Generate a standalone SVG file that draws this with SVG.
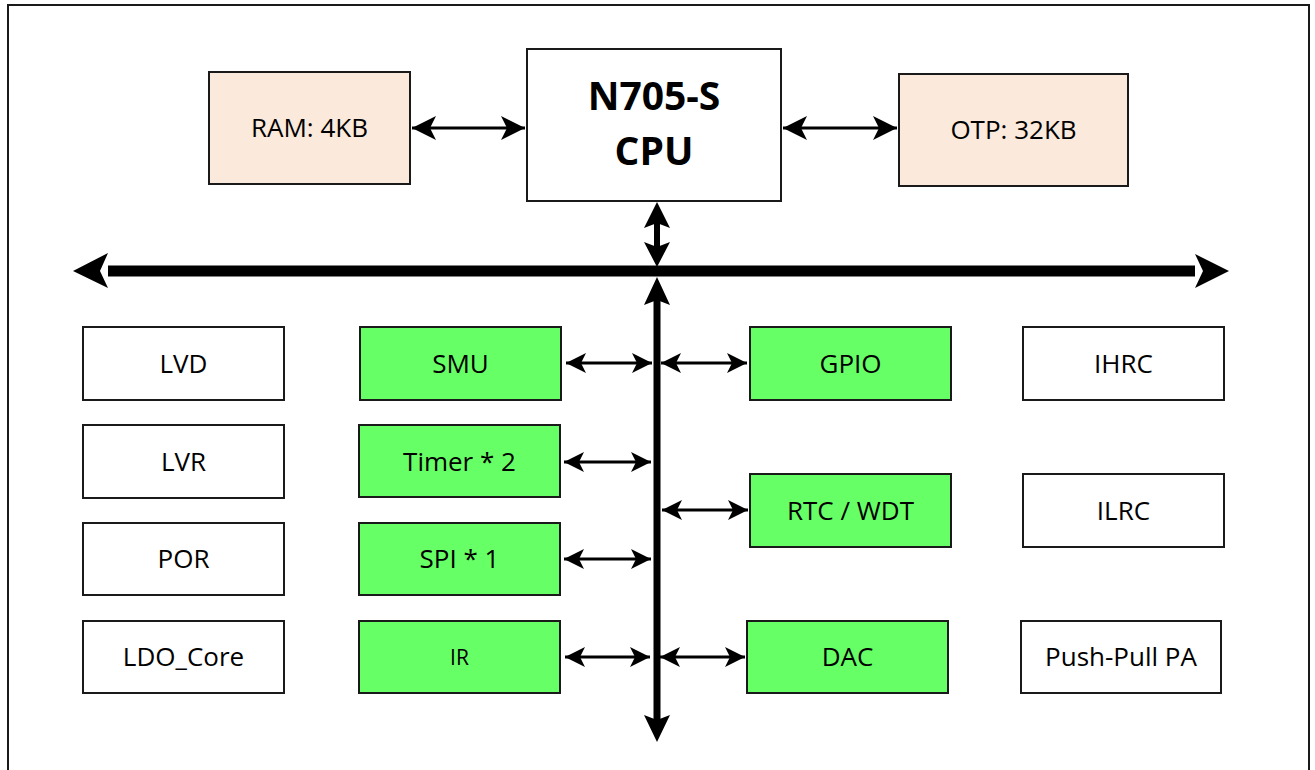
<svg xmlns="http://www.w3.org/2000/svg" width="1315" height="770" viewBox="0 0 1315 770">
<style>
.box{stroke:#1a1a1a;stroke-width:2}
.w{fill:#ffffff}
.g{fill:#66ff66}
.p{fill:#fbe9db}
.t{font-family:"Open Sans","Noto Sans",sans-serif;font-size:26px;fill:#000;text-anchor:middle}
.tb{font-family:"Open Sans","Noto Sans",sans-serif;font-size:39px;font-weight:bold;fill:#000;text-anchor:middle}
.thin{stroke:#000;stroke-width:3;fill:none}
</style>
<defs>
<marker id="sa" viewBox="0 0 20 20" refX="20" refY="10" markerWidth="20" markerHeight="20" markerUnits="userSpaceOnUse" orient="auto-start-reverse">
<path d="M0,0 L20,10 L0,20 L5,10 Z" fill="#000"/>
</marker>
<marker id="ma" viewBox="0 0 24 24" refX="24" refY="12" markerWidth="24" markerHeight="24" markerUnits="userSpaceOnUse" orient="auto-start-reverse">
<path d="M0,0 L24,12 L0,24 L6,12 Z" fill="#000"/>
</marker>
</defs>
<rect width="1315" height="770" fill="#fff"/>
<path d="M8,772 V5 H1309 V772" fill="none" stroke="#1a1a1a" stroke-width="2"/>

<g id="connectors">
<line class="thin" x1="412" y1="128" x2="525" y2="128" marker-start="url(#ma)" marker-end="url(#ma)" stroke-width="4"/>
<line class="thin" x1="783" y1="128" x2="897" y2="128" marker-start="url(#ma)" marker-end="url(#ma)" stroke-width="4"/>
<line x1="657" y1="220" x2="657" y2="250" stroke="#000" stroke-width="6"/>
<path d="M657,202 L670,228 L657,223 L644,228 Z" fill="#000"/>
<path d="M657,267 L670,242 L657,247 L644,242 Z" fill="#000"/>
<line x1="108" y1="271" x2="1195" y2="271" stroke="#000" stroke-width="11"/>
<path d="M73,271 L108,253 L100,271 L108,288 Z" fill="#000"/>
<path d="M1229,271 L1195,254 L1203,271 L1195,288 Z" fill="#000"/>
<line x1="657" y1="300" x2="657" y2="720" stroke="#000" stroke-width="7"/>
<path d="M657,277 L670,305 L657,300 L644,305 Z" fill="#000"/>
<path d="M657,742 L670,715 L657,720 L644,715 Z" fill="#000"/>
<line class="thin" x1="566" y1="363" x2="652" y2="363" marker-start="url(#sa)" marker-end="url(#sa)"/>
<line class="thin" x1="661" y1="363" x2="747" y2="363" marker-start="url(#sa)" marker-end="url(#sa)"/>
<line class="thin" x1="564" y1="462" x2="651" y2="462" marker-start="url(#sa)" marker-end="url(#sa)"/>
<line class="thin" x1="662" y1="510" x2="748" y2="510" marker-start="url(#sa)" marker-end="url(#sa)"/>
<line class="thin" x1="564" y1="559" x2="651" y2="559" marker-start="url(#sa)" marker-end="url(#sa)"/>
<line class="thin" x1="565" y1="657" x2="650" y2="657" marker-start="url(#sa)" marker-end="url(#sa)"/>
<line class="thin" x1="660" y1="657" x2="745" y2="657" marker-start="url(#sa)" marker-end="url(#sa)"/>
</g>

<g id="ram"><rect class="box p" x="209" y="72" width="201" height="112"/><text class="t" x="309.5" y="137">RAM: 4KB</text></g>
<g id="cpu"><rect class="box w" x="527" y="49" width="254" height="152"/><text class="tb" x="654" y="110">N705-S</text><text class="tb" x="654" y="165">CPU</text></g>
<g id="otp"><rect class="box p" x="899" y="74" width="229" height="112"/><text class="t" x="1013.5" y="139">OTP: 32KB</text></g>

<g id="lvd"><rect class="box w" x="83" y="327" width="201" height="73"/><text class="t" x="183.5" y="373">LVD</text></g>
<g id="lvr"><rect class="box w" x="83" y="425" width="201" height="73"/><text class="t" x="183.5" y="471">LVR</text></g>
<g id="por"><rect class="box w" x="83" y="523" width="201" height="72"/><text class="t" x="183.5" y="568">POR</text></g>
<g id="ldo"><rect class="box w" x="83" y="621" width="201" height="72"/><text class="t" x="183.5" y="666">LDO_Core</text></g>

<g id="smu"><rect class="box g" x="360" y="327" width="201" height="73"/><text class="t" x="460.5" y="373">SMU</text></g>
<g id="timer"><rect class="box g" x="359" y="425" width="201" height="72"/><text class="t" x="459.5" y="471">Timer * 2</text></g>
<g id="spi"><rect class="box g" x="359" y="523" width="201" height="72"/><text class="t" x="459.5" y="568">SPI * 1</text></g>
<g id="ir"><rect class="box g" x="359" y="621" width="201" height="72"/><text class="t" x="459.5" y="665" style="font-size:21px">IR</text></g>

<g id="gpio"><rect class="box g" x="750" y="327" width="201" height="73"/><text class="t" x="850.5" y="373">GPIO</text></g>
<g id="rtc"><rect class="box g" x="750" y="474" width="201" height="73"/><text class="t" x="850.5" y="520">RTC / WDT</text></g>
<g id="dac"><rect class="box g" x="747" y="621" width="201" height="72"/><text class="t" x="847.5" y="666">DAC</text></g>

<g id="ihrc"><rect class="box w" x="1023" y="327" width="201" height="73"/><text class="t" x="1123.5" y="373">IHRC</text></g>
<g id="ilrc"><rect class="box w" x="1023" y="474" width="201" height="73"/><text class="t" x="1123.5" y="520">ILRC</text></g>
<g id="pa"><rect class="box w" x="1021" y="621" width="200" height="72"/><text class="t" x="1121" y="666">Push-Pull PA</text></g>
</svg>
